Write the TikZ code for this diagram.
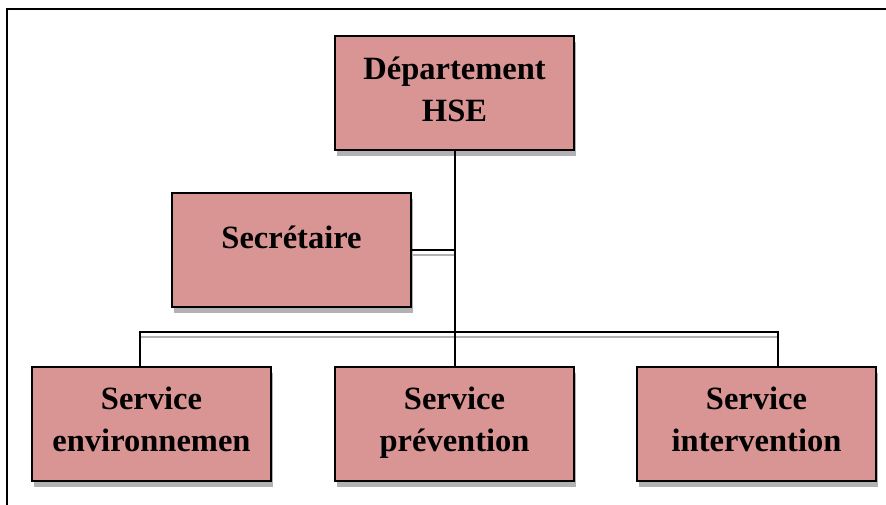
\documentclass[tikz,border=0pt]{standalone}
\usepackage{fontspec}
\setmainfont{Liberation Serif}
\usetikzlibrary{shadows,calc}
\definecolor{boxpink}{RGB}{217,149,148}
\definecolor{shadowgray}{RGB}{178,178,178}

\begin{document}
\begin{tikzpicture}[x=1pt,y=-1pt,
	box/.style={draw=black,line width=1.8pt,fill=boxpink,
		minimum width=239pt,minimum height=114pt,align=center,
		font=\bfseries\fontsize{32.5}{42}\selectfont,
		drop shadow={shadow xshift=1.5pt,shadow yshift=-6pt,fill=shadowgray,opacity=1}},
	link/.style={draw=black,line width=2pt},
	sline/.style={draw=shadowgray,line width=2pt}]
\useasboundingbox (0,0) rectangle (886,504);
\clip (0,0) rectangle (886,504);
\draw[line width=2pt] (7,9) rectangle (900,520);

\node[box] (dept) at (454.5,93) {Département\\HSE\\[-34pt]};
\node[box] (secr) at (291.5,250) {Secrétaire\\[-16pt]};
\foreach \name/\x/\txt in {env/151.5/environnemen,prev/454.5/prévention,int/756.5/intervention}{
	\node[box] (\name) at (\x,424) {Service\\\txt\\[-32pt]};
}

\coordinate (bus) at (454.5,332);
\draw[sline] ($(secr.east)+(0,5)$) -- ($(secr.east -| dept.south)+(0,5)$);
\draw[sline] ($([xshift=-12pt]env.north |- bus)+(0,4.5)$) -- ($([xshift=21pt]int.north |- bus)+(0,4.5)$);
\draw[link] (dept.south) -- (prev.north);
\draw[link] (secr.east) -- (secr.east -| dept.south);
\draw[link] ([xshift=-12pt]env.north) |- (bus) -| ([xshift=21pt]int.north);
\end{tikzpicture}
\end{document}
